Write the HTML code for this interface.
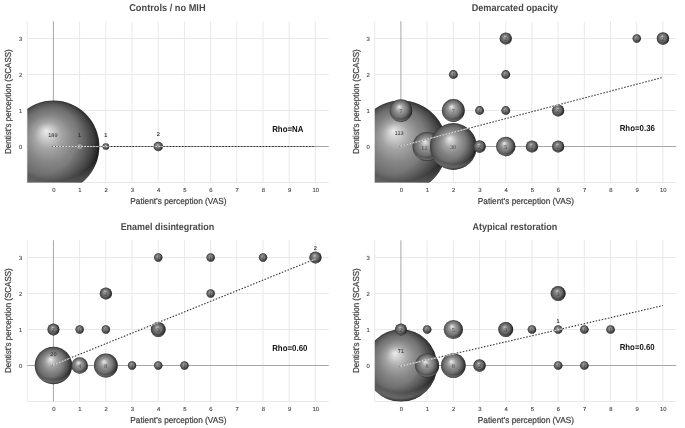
<!DOCTYPE html>
<html><head><meta charset="utf-8"><style>
html,body{margin:0;padding:0;background:#fff;}
svg{display:block;filter:grayscale(1);}
text{font-family:"Liberation Sans",sans-serif;text-rendering:geometricPrecision;}
</style></head><body>
<svg width="685" height="428" viewBox="0 0 685 428">
<defs>
<radialGradient id="sph" cx="0.5" cy="0.5" r="0.5" fx="0.42" fy="0.33">
<stop offset="0" stop-color="#ececec"/>
<stop offset="0.12" stop-color="#d0d0d0"/>
<stop offset="0.3" stop-color="#a4a4a4"/>
<stop offset="0.52" stop-color="#858585"/>
<stop offset="0.75" stop-color="#6e6e6e"/>
<stop offset="0.9" stop-color="#565656"/>
<stop offset="1" stop-color="#3a3a3a"/>
</radialGradient>
<radialGradient id="sphs" cx="0.5" cy="0.5" r="0.5" fx="0.42" fy="0.33">
<stop offset="0" stop-color="#c4c4c4"/>
<stop offset="0.12" stop-color="#a8a8a8"/>
<stop offset="0.35" stop-color="#7e7e7e"/>
<stop offset="0.6" stop-color="#6a6a6a"/>
<stop offset="0.82" stop-color="#505050"/>
<stop offset="1" stop-color="#2e2e2e"/>
</radialGradient>
<radialGradient id="rim" cx="0.5" cy="0.3" r="0.72" fx="0.5" fy="0.3">
<stop offset="0.8" stop-color="#fff" stop-opacity="0"/>
<stop offset="0.9" stop-color="#fff" stop-opacity="0.22"/>
<stop offset="0.97" stop-color="#fff" stop-opacity="0.05"/>
<stop offset="1" stop-color="#fff" stop-opacity="0"/>
</radialGradient>
<radialGradient id="shd" cx="0.36" cy="0.4" r="0.72" fx="0.36" fy="0.4">
<stop offset="0.55" stop-color="#000" stop-opacity="0"/>
<stop offset="0.8" stop-color="#000" stop-opacity="0.28"/>
<stop offset="1" stop-color="#000" stop-opacity="0.7"/>
</radialGradient>

<clipPath id="cp0"><rect x="27.30" y="21.22" width="301.50" height="161.28"/></clipPath>
<clipPath id="cp1"><rect x="374.80" y="21.22" width="301.50" height="161.28"/></clipPath>
<clipPath id="cp2"><rect x="27.30" y="240.22" width="301.50" height="161.28"/></clipPath>
<clipPath id="cp3"><rect x="374.80" y="240.22" width="301.50" height="161.28"/></clipPath>
<clipPath id="bc0"><circle cx="53.40" cy="146.50" r="45.9"/><circle cx="79.60" cy="146.50" r="2.6"/><circle cx="105.80" cy="146.50" r="3.3"/><circle cx="158.20" cy="146.50" r="4.7"/></clipPath>
<mask id="bm0" maskUnits="userSpaceOnUse" x="0" y="0" width="685" height="428"><rect x="0" y="0" width="685" height="428" fill="#fff"/><g fill="#000"><circle cx="53.40" cy="146.50" r="45.9"/><circle cx="79.60" cy="146.50" r="2.6"/><circle cx="105.80" cy="146.50" r="3.3"/><circle cx="158.20" cy="146.50" r="4.7"/></g></mask>
<clipPath id="bc1"><circle cx="400.90" cy="146.50" r="45.9"/><circle cx="400.90" cy="110.50" r="11.3"/><circle cx="427.10" cy="146.50" r="14.6"/><circle cx="453.30" cy="146.50" r="23.4"/><circle cx="453.30" cy="110.50" r="11.4"/><circle cx="453.30" cy="74.50" r="4.4"/><circle cx="479.50" cy="146.50" r="6.2"/><circle cx="479.50" cy="110.50" r="4.4"/><circle cx="505.70" cy="146.50" r="9.7"/><circle cx="505.70" cy="110.50" r="4.4"/><circle cx="505.70" cy="74.50" r="4.4"/><circle cx="505.70" cy="38.50" r="6.1"/><circle cx="531.90" cy="146.50" r="6.1"/><circle cx="558.10" cy="146.50" r="6.1"/><circle cx="558.10" cy="110.50" r="6.1"/><circle cx="636.70" cy="38.50" r="4.2"/><circle cx="662.90" cy="38.50" r="6.2"/></clipPath>
<mask id="bm1" maskUnits="userSpaceOnUse" x="0" y="0" width="685" height="428"><rect x="0" y="0" width="685" height="428" fill="#fff"/><g fill="#000"><circle cx="400.90" cy="146.50" r="45.9"/><circle cx="400.90" cy="110.50" r="11.3"/><circle cx="427.10" cy="146.50" r="14.6"/><circle cx="453.30" cy="146.50" r="23.4"/><circle cx="453.30" cy="110.50" r="11.4"/><circle cx="453.30" cy="74.50" r="4.4"/><circle cx="479.50" cy="146.50" r="6.2"/><circle cx="479.50" cy="110.50" r="4.4"/><circle cx="505.70" cy="146.50" r="9.7"/><circle cx="505.70" cy="110.50" r="4.4"/><circle cx="505.70" cy="74.50" r="4.4"/><circle cx="505.70" cy="38.50" r="6.1"/><circle cx="531.90" cy="146.50" r="6.1"/><circle cx="558.10" cy="146.50" r="6.1"/><circle cx="558.10" cy="110.50" r="6.1"/><circle cx="636.70" cy="38.50" r="4.2"/><circle cx="662.90" cy="38.50" r="6.2"/></g></mask>
<clipPath id="bc2"><circle cx="53.40" cy="365.50" r="18.7"/><circle cx="53.40" cy="329.50" r="6.0"/><circle cx="79.60" cy="365.50" r="8.3"/><circle cx="79.60" cy="329.50" r="4.2"/><circle cx="105.80" cy="365.50" r="11.9"/><circle cx="105.80" cy="329.50" r="4.2"/><circle cx="105.80" cy="293.50" r="6.1"/><circle cx="132.00" cy="365.50" r="4.2"/><circle cx="158.20" cy="365.50" r="4.2"/><circle cx="158.20" cy="329.50" r="7.4"/><circle cx="158.20" cy="257.50" r="4.2"/><circle cx="184.40" cy="365.50" r="4.2"/><circle cx="210.60" cy="293.50" r="4.2"/><circle cx="210.60" cy="257.50" r="4.2"/><circle cx="263.00" cy="257.50" r="4.2"/><circle cx="315.40" cy="257.50" r="6.1"/></clipPath>
<mask id="bm2" maskUnits="userSpaceOnUse" x="0" y="0" width="685" height="428"><rect x="0" y="0" width="685" height="428" fill="#fff"/><g fill="#000"><circle cx="53.40" cy="365.50" r="18.7"/><circle cx="53.40" cy="329.50" r="6.0"/><circle cx="79.60" cy="365.50" r="8.3"/><circle cx="79.60" cy="329.50" r="4.2"/><circle cx="105.80" cy="365.50" r="11.9"/><circle cx="105.80" cy="329.50" r="4.2"/><circle cx="105.80" cy="293.50" r="6.1"/><circle cx="132.00" cy="365.50" r="4.2"/><circle cx="158.20" cy="365.50" r="4.2"/><circle cx="158.20" cy="329.50" r="7.4"/><circle cx="158.20" cy="257.50" r="4.2"/><circle cx="184.40" cy="365.50" r="4.2"/><circle cx="210.60" cy="293.50" r="4.2"/><circle cx="210.60" cy="257.50" r="4.2"/><circle cx="263.00" cy="257.50" r="4.2"/><circle cx="315.40" cy="257.50" r="6.1"/></g></mask>
<clipPath id="bc3"><circle cx="400.90" cy="365.50" r="36.2"/><circle cx="400.90" cy="329.50" r="6.0"/><circle cx="427.10" cy="365.50" r="12.0"/><circle cx="427.10" cy="329.50" r="4.3"/><circle cx="453.30" cy="365.50" r="12.3"/><circle cx="453.30" cy="329.50" r="9.6"/><circle cx="479.50" cy="365.50" r="6.2"/><circle cx="505.70" cy="329.50" r="7.5"/><circle cx="531.90" cy="329.50" r="4.3"/><circle cx="558.10" cy="365.50" r="4.3"/><circle cx="558.10" cy="329.50" r="4.3"/><circle cx="558.10" cy="293.50" r="7.5"/><circle cx="584.30" cy="365.50" r="4.3"/><circle cx="584.30" cy="329.50" r="4.3"/><circle cx="610.50" cy="329.50" r="4.3"/></clipPath>
<mask id="bm3" maskUnits="userSpaceOnUse" x="0" y="0" width="685" height="428"><rect x="0" y="0" width="685" height="428" fill="#fff"/><g fill="#000"><circle cx="400.90" cy="365.50" r="36.2"/><circle cx="400.90" cy="329.50" r="6.0"/><circle cx="427.10" cy="365.50" r="12.0"/><circle cx="427.10" cy="329.50" r="4.3"/><circle cx="453.30" cy="365.50" r="12.3"/><circle cx="453.30" cy="329.50" r="9.6"/><circle cx="479.50" cy="365.50" r="6.2"/><circle cx="505.70" cy="329.50" r="7.5"/><circle cx="531.90" cy="329.50" r="4.3"/><circle cx="558.10" cy="365.50" r="4.3"/><circle cx="558.10" cy="329.50" r="4.3"/><circle cx="558.10" cy="293.50" r="7.5"/><circle cx="584.30" cy="365.50" r="4.3"/><circle cx="584.30" cy="329.50" r="4.3"/><circle cx="610.50" cy="329.50" r="4.3"/></g></mask>
</defs>
<g><text x="167.40" y="10.50" font-size="9.9" font-weight="bold" fill="#484848" text-anchor="middle" textLength="76.4" lengthAdjust="spacingAndGlyphs">Controls / no MIH</text>
<line x1="27.20" y1="38.50" x2="328.80" y2="38.50" stroke="#e9e9e9" stroke-width="1"/>
<line x1="27.20" y1="74.50" x2="328.80" y2="74.50" stroke="#e9e9e9" stroke-width="1"/>
<line x1="27.20" y1="110.50" x2="328.80" y2="110.50" stroke="#e9e9e9" stroke-width="1"/>
<line x1="27.20" y1="182.50" x2="328.80" y2="182.50" stroke="#e9e9e9" stroke-width="1"/>
<line x1="27.20" y1="21.22" x2="27.20" y2="182.50" stroke="#e9e9e9" stroke-width="1"/>
<line x1="79.60" y1="21.22" x2="79.60" y2="182.50" stroke="#e9e9e9" stroke-width="1"/>
<line x1="105.80" y1="21.22" x2="105.80" y2="182.50" stroke="#e9e9e9" stroke-width="1"/>
<line x1="132.00" y1="21.22" x2="132.00" y2="182.50" stroke="#e9e9e9" stroke-width="1"/>
<line x1="158.20" y1="21.22" x2="158.20" y2="182.50" stroke="#e9e9e9" stroke-width="1"/>
<line x1="184.40" y1="21.22" x2="184.40" y2="182.50" stroke="#e9e9e9" stroke-width="1"/>
<line x1="210.60" y1="21.22" x2="210.60" y2="182.50" stroke="#e9e9e9" stroke-width="1"/>
<line x1="236.80" y1="21.22" x2="236.80" y2="182.50" stroke="#e9e9e9" stroke-width="1"/>
<line x1="263.00" y1="21.22" x2="263.00" y2="182.50" stroke="#e9e9e9" stroke-width="1"/>
<line x1="289.20" y1="21.22" x2="289.20" y2="182.50" stroke="#e9e9e9" stroke-width="1"/>
<line x1="315.40" y1="21.22" x2="315.40" y2="182.50" stroke="#e9e9e9" stroke-width="1"/>
<line x1="53.40" y1="21.22" x2="53.40" y2="182.50" stroke="#a6a6a6" stroke-width="1"/>
<line x1="27.20" y1="146.50" x2="328.80" y2="146.50" stroke="#a6a6a6" stroke-width="1"/>
<text x="53.80" y="192.30" font-size="5.9" fill="#444" stroke="#444" stroke-width="0.12" text-anchor="middle">0</text>
<text x="80.00" y="192.30" font-size="5.9" fill="#444" stroke="#444" stroke-width="0.12" text-anchor="middle">1</text>
<text x="106.20" y="192.30" font-size="5.9" fill="#444" stroke="#444" stroke-width="0.12" text-anchor="middle">2</text>
<text x="132.40" y="192.30" font-size="5.9" fill="#444" stroke="#444" stroke-width="0.12" text-anchor="middle">3</text>
<text x="158.60" y="192.30" font-size="5.9" fill="#444" stroke="#444" stroke-width="0.12" text-anchor="middle">4</text>
<text x="184.80" y="192.30" font-size="5.9" fill="#444" stroke="#444" stroke-width="0.12" text-anchor="middle">5</text>
<text x="211.00" y="192.30" font-size="5.9" fill="#444" stroke="#444" stroke-width="0.12" text-anchor="middle">6</text>
<text x="237.20" y="192.30" font-size="5.9" fill="#444" stroke="#444" stroke-width="0.12" text-anchor="middle">7</text>
<text x="263.40" y="192.30" font-size="5.9" fill="#444" stroke="#444" stroke-width="0.12" text-anchor="middle">8</text>
<text x="289.60" y="192.30" font-size="5.9" fill="#444" stroke="#444" stroke-width="0.12" text-anchor="middle">9</text>
<text x="315.80" y="192.30" font-size="5.9" fill="#444" stroke="#444" stroke-width="0.12" text-anchor="middle">10</text>
<text x="20.70" y="148.60" font-size="5.9" fill="#444" stroke="#444" stroke-width="0.12" text-anchor="middle">0</text>
<text x="20.70" y="112.60" font-size="5.9" fill="#444" stroke="#444" stroke-width="0.12" text-anchor="middle">1</text>
<text x="20.70" y="76.60" font-size="5.9" fill="#444" stroke="#444" stroke-width="0.12" text-anchor="middle">2</text>
<text x="20.70" y="40.60" font-size="5.9" fill="#444" stroke="#444" stroke-width="0.12" text-anchor="middle">3</text>
<text x="178.40" y="204.00" font-size="8.7" fill="#404040" stroke="#404040" stroke-width="0.22" text-anchor="middle" textLength="96.2" lengthAdjust="spacingAndGlyphs">Patient&#8217;s perception (VAS)</text>
<text transform="translate(11.00,101.60) rotate(-90)" font-size="8.7" fill="#404040" stroke="#404040" stroke-width="0.22" text-anchor="middle" textLength="104.6" lengthAdjust="spacingAndGlyphs">Dentist&#8217;s perception (SCASS)</text>
<g clip-path="url(#cp0)">
<circle cx="53.40" cy="146.50" r="45.9" fill="url(#sph)"/>
<circle cx="53.40" cy="146.50" r="45.9" fill="url(#shd)"/>
<circle cx="53.40" cy="146.50" r="45.9" fill="url(#rim)"/>
<circle cx="79.60" cy="146.50" r="2.6" fill="#b0b0b0" fill-opacity="0.6"/>
<circle cx="105.80" cy="146.50" r="3.3" fill="url(#sphs)"/>
<circle cx="105.80" cy="146.50" r="3.3" fill="url(#shd)"/>
<circle cx="105.80" cy="146.50" r="3.3" fill="url(#rim)"/>
<circle cx="158.20" cy="146.50" r="4.7" fill="url(#sphs)"/>
<circle cx="158.20" cy="146.50" r="4.7" fill="url(#shd)"/>
<circle cx="158.20" cy="146.50" r="4.7" fill="url(#rim)"/>
<line x1="51.90" y1="146.50" x2="315.40" y2="146.50" stroke="#333" stroke-width="1.1" stroke-dasharray="1.5 1.6" mask="url(#bm0)"/>
<g clip-path="url(#bc0)"><line x1="51.90" y1="146.50" x2="315.40" y2="146.50" stroke="#d8d8d8" stroke-width="1.2"/><line x1="51.90" y1="146.50" x2="315.40" y2="146.50" stroke="#555" stroke-width="1.0" stroke-dasharray="1.0 2.1"/></g>
</g>
<text x="52.90" y="137.40" font-size="5.5" fill="#2a2a2a" stroke="#2a2a2a" stroke-width="0.02" text-anchor="middle">189</text>
<text x="79.60" y="137.40" font-size="5.5" fill="#2a2a2a" stroke="#2a2a2a" stroke-width="0.15" text-anchor="middle">1</text>
<text x="105.80" y="137.40" font-size="5.5" fill="#2a2a2a" stroke="#2a2a2a" stroke-width="0.15" text-anchor="middle">1</text>
<text x="158.20" y="135.90" font-size="5.5" fill="#2a2a2a" stroke="#2a2a2a" stroke-width="0.15" text-anchor="middle">2</text>
<text x="272.20" y="131.60" font-size="8.7" font-weight="bold" fill="#111" textLength="31.2" lengthAdjust="spacingAndGlyphs">Rho=NA</text></g>
<g><text x="514.90" y="10.50" font-size="9.9" font-weight="bold" fill="#484848" text-anchor="middle" textLength="86.4" lengthAdjust="spacingAndGlyphs">Demarcated opacity</text>
<line x1="374.70" y1="38.50" x2="676.30" y2="38.50" stroke="#e9e9e9" stroke-width="1"/>
<line x1="374.70" y1="74.50" x2="676.30" y2="74.50" stroke="#e9e9e9" stroke-width="1"/>
<line x1="374.70" y1="110.50" x2="676.30" y2="110.50" stroke="#e9e9e9" stroke-width="1"/>
<line x1="374.70" y1="182.50" x2="676.30" y2="182.50" stroke="#e9e9e9" stroke-width="1"/>
<line x1="374.70" y1="21.22" x2="374.70" y2="182.50" stroke="#e9e9e9" stroke-width="1"/>
<line x1="427.10" y1="21.22" x2="427.10" y2="182.50" stroke="#e9e9e9" stroke-width="1"/>
<line x1="453.30" y1="21.22" x2="453.30" y2="182.50" stroke="#e9e9e9" stroke-width="1"/>
<line x1="479.50" y1="21.22" x2="479.50" y2="182.50" stroke="#e9e9e9" stroke-width="1"/>
<line x1="505.70" y1="21.22" x2="505.70" y2="182.50" stroke="#e9e9e9" stroke-width="1"/>
<line x1="531.90" y1="21.22" x2="531.90" y2="182.50" stroke="#e9e9e9" stroke-width="1"/>
<line x1="558.10" y1="21.22" x2="558.10" y2="182.50" stroke="#e9e9e9" stroke-width="1"/>
<line x1="584.30" y1="21.22" x2="584.30" y2="182.50" stroke="#e9e9e9" stroke-width="1"/>
<line x1="610.50" y1="21.22" x2="610.50" y2="182.50" stroke="#e9e9e9" stroke-width="1"/>
<line x1="636.70" y1="21.22" x2="636.70" y2="182.50" stroke="#e9e9e9" stroke-width="1"/>
<line x1="662.90" y1="21.22" x2="662.90" y2="182.50" stroke="#e9e9e9" stroke-width="1"/>
<line x1="400.90" y1="21.22" x2="400.90" y2="182.50" stroke="#a6a6a6" stroke-width="1"/>
<line x1="374.70" y1="146.50" x2="676.30" y2="146.50" stroke="#a6a6a6" stroke-width="1"/>
<text x="401.30" y="192.30" font-size="5.9" fill="#444" stroke="#444" stroke-width="0.12" text-anchor="middle">0</text>
<text x="427.50" y="192.30" font-size="5.9" fill="#444" stroke="#444" stroke-width="0.12" text-anchor="middle">1</text>
<text x="453.70" y="192.30" font-size="5.9" fill="#444" stroke="#444" stroke-width="0.12" text-anchor="middle">2</text>
<text x="479.90" y="192.30" font-size="5.9" fill="#444" stroke="#444" stroke-width="0.12" text-anchor="middle">3</text>
<text x="506.10" y="192.30" font-size="5.9" fill="#444" stroke="#444" stroke-width="0.12" text-anchor="middle">4</text>
<text x="532.30" y="192.30" font-size="5.9" fill="#444" stroke="#444" stroke-width="0.12" text-anchor="middle">5</text>
<text x="558.50" y="192.30" font-size="5.9" fill="#444" stroke="#444" stroke-width="0.12" text-anchor="middle">6</text>
<text x="584.70" y="192.30" font-size="5.9" fill="#444" stroke="#444" stroke-width="0.12" text-anchor="middle">7</text>
<text x="610.90" y="192.30" font-size="5.9" fill="#444" stroke="#444" stroke-width="0.12" text-anchor="middle">8</text>
<text x="637.10" y="192.30" font-size="5.9" fill="#444" stroke="#444" stroke-width="0.12" text-anchor="middle">9</text>
<text x="663.30" y="192.30" font-size="5.9" fill="#444" stroke="#444" stroke-width="0.12" text-anchor="middle">10</text>
<text x="368.20" y="148.60" font-size="5.9" fill="#444" stroke="#444" stroke-width="0.12" text-anchor="middle">0</text>
<text x="368.20" y="112.60" font-size="5.9" fill="#444" stroke="#444" stroke-width="0.12" text-anchor="middle">1</text>
<text x="368.20" y="76.60" font-size="5.9" fill="#444" stroke="#444" stroke-width="0.12" text-anchor="middle">2</text>
<text x="368.20" y="40.60" font-size="5.9" fill="#444" stroke="#444" stroke-width="0.12" text-anchor="middle">3</text>
<text x="525.90" y="204.00" font-size="8.7" fill="#404040" stroke="#404040" stroke-width="0.22" text-anchor="middle" textLength="96.2" lengthAdjust="spacingAndGlyphs">Patient&#8217;s perception (VAS)</text>
<text transform="translate(358.50,101.60) rotate(-90)" font-size="8.7" fill="#404040" stroke="#404040" stroke-width="0.22" text-anchor="middle" textLength="104.6" lengthAdjust="spacingAndGlyphs">Dentist&#8217;s perception (SCASS)</text>
<g clip-path="url(#cp1)">
<circle cx="400.90" cy="146.50" r="45.9" fill="url(#sph)"/>
<circle cx="400.90" cy="146.50" r="45.9" fill="url(#shd)"/>
<circle cx="400.90" cy="146.50" r="45.9" fill="url(#rim)"/>
<circle cx="400.90" cy="110.50" r="11.3" fill="url(#sph)"/>
<circle cx="400.90" cy="110.50" r="11.3" fill="url(#shd)"/>
<circle cx="400.90" cy="110.50" r="11.3" fill="url(#rim)"/>
<circle cx="427.10" cy="146.50" r="14.6" fill="url(#sph)"/>
<circle cx="427.10" cy="146.50" r="14.6" fill="url(#shd)"/>
<circle cx="427.10" cy="146.50" r="14.6" fill="url(#rim)"/>
<circle cx="453.30" cy="146.50" r="23.4" fill="url(#sph)"/>
<circle cx="453.30" cy="146.50" r="23.4" fill="url(#shd)"/>
<circle cx="453.30" cy="146.50" r="23.4" fill="url(#rim)"/>
<circle cx="453.30" cy="110.50" r="11.4" fill="url(#sph)"/>
<circle cx="453.30" cy="110.50" r="11.4" fill="url(#shd)"/>
<circle cx="453.30" cy="110.50" r="11.4" fill="url(#rim)"/>
<circle cx="453.30" cy="74.50" r="4.4" fill="url(#sphs)"/>
<circle cx="453.30" cy="74.50" r="4.4" fill="url(#shd)"/>
<circle cx="453.30" cy="74.50" r="4.4" fill="url(#rim)"/>
<circle cx="479.50" cy="146.50" r="6.2" fill="url(#sphs)"/>
<circle cx="479.50" cy="146.50" r="6.2" fill="url(#shd)"/>
<circle cx="479.50" cy="146.50" r="6.2" fill="url(#rim)"/>
<circle cx="479.50" cy="110.50" r="4.4" fill="url(#sphs)"/>
<circle cx="479.50" cy="110.50" r="4.4" fill="url(#shd)"/>
<circle cx="479.50" cy="110.50" r="4.4" fill="url(#rim)"/>
<circle cx="505.70" cy="146.50" r="9.7" fill="url(#sph)"/>
<circle cx="505.70" cy="146.50" r="9.7" fill="url(#shd)"/>
<circle cx="505.70" cy="146.50" r="9.7" fill="url(#rim)"/>
<circle cx="505.70" cy="110.50" r="4.4" fill="url(#sphs)"/>
<circle cx="505.70" cy="110.50" r="4.4" fill="url(#shd)"/>
<circle cx="505.70" cy="110.50" r="4.4" fill="url(#rim)"/>
<circle cx="505.70" cy="74.50" r="4.4" fill="url(#sphs)"/>
<circle cx="505.70" cy="74.50" r="4.4" fill="url(#shd)"/>
<circle cx="505.70" cy="74.50" r="4.4" fill="url(#rim)"/>
<circle cx="505.70" cy="38.50" r="6.1" fill="url(#sphs)"/>
<circle cx="505.70" cy="38.50" r="6.1" fill="url(#shd)"/>
<circle cx="505.70" cy="38.50" r="6.1" fill="url(#rim)"/>
<circle cx="531.90" cy="146.50" r="6.1" fill="url(#sphs)"/>
<circle cx="531.90" cy="146.50" r="6.1" fill="url(#shd)"/>
<circle cx="531.90" cy="146.50" r="6.1" fill="url(#rim)"/>
<circle cx="558.10" cy="146.50" r="6.1" fill="url(#sphs)"/>
<circle cx="558.10" cy="146.50" r="6.1" fill="url(#shd)"/>
<circle cx="558.10" cy="146.50" r="6.1" fill="url(#rim)"/>
<circle cx="558.10" cy="110.50" r="6.1" fill="url(#sphs)"/>
<circle cx="558.10" cy="110.50" r="6.1" fill="url(#shd)"/>
<circle cx="558.10" cy="110.50" r="6.1" fill="url(#rim)"/>
<circle cx="636.70" cy="38.50" r="4.2" fill="url(#sphs)"/>
<circle cx="636.70" cy="38.50" r="4.2" fill="url(#shd)"/>
<circle cx="636.70" cy="38.50" r="4.2" fill="url(#rim)"/>
<circle cx="662.90" cy="38.50" r="6.2" fill="url(#sphs)"/>
<circle cx="662.90" cy="38.50" r="6.2" fill="url(#shd)"/>
<circle cx="662.90" cy="38.50" r="6.2" fill="url(#rim)"/>
<line x1="399.40" y1="146.50" x2="662.90" y2="77.38" stroke="#333" stroke-width="1.1" stroke-dasharray="1.5 1.6" mask="url(#bm1)"/>
<g clip-path="url(#bc1)"><line x1="399.40" y1="146.50" x2="662.90" y2="77.38" stroke="#d8d8d8" stroke-width="1.2"/><line x1="399.40" y1="146.50" x2="662.90" y2="77.38" stroke="#555" stroke-width="1.0" stroke-dasharray="1.0 2.1"/></g>
</g>
<text x="399.20" y="135.00" font-size="5.5" fill="#2a2a2a" stroke="#2a2a2a" stroke-width="0.02" text-anchor="middle">113</text>
<text x="400.90" y="112.70" font-size="6.2" fill="#333" fill-opacity="0.8" text-anchor="middle" style="font-family:&quot;Liberation Serif&quot;,serif">7</text>
<text x="424.40" y="149.70" font-size="6.2" fill="#333" fill-opacity="0.8" text-anchor="middle" style="font-family:&quot;Liberation Serif&quot;,serif">12</text>
<text x="453.30" y="148.70" font-size="6.2" fill="#333" fill-opacity="0.8" text-anchor="middle" style="font-family:&quot;Liberation Serif&quot;,serif">30</text>
<text x="453.30" y="112.70" font-size="6.2" fill="#333" fill-opacity="0.8" text-anchor="middle" style="font-family:&quot;Liberation Serif&quot;,serif">7</text>
<text x="453.30" y="76.70" font-size="6.2" fill="#333" fill-opacity="0.8" text-anchor="middle" style="font-family:&quot;Liberation Serif&quot;,serif">1</text>
<text x="479.50" y="148.70" font-size="6.2" fill="#333" fill-opacity="0.8" text-anchor="middle" style="font-family:&quot;Liberation Serif&quot;,serif">2</text>
<text x="479.50" y="112.70" font-size="6.2" fill="#333" fill-opacity="0.8" text-anchor="middle" style="font-family:&quot;Liberation Serif&quot;,serif">1</text>
<text x="505.70" y="148.70" font-size="6.2" fill="#333" fill-opacity="0.8" text-anchor="middle" style="font-family:&quot;Liberation Serif&quot;,serif">5</text>
<text x="505.70" y="112.70" font-size="6.2" fill="#333" fill-opacity="0.8" text-anchor="middle" style="font-family:&quot;Liberation Serif&quot;,serif">1</text>
<text x="505.70" y="76.70" font-size="6.2" fill="#333" fill-opacity="0.8" text-anchor="middle" style="font-family:&quot;Liberation Serif&quot;,serif">1</text>
<text x="505.70" y="40.70" font-size="6.2" fill="#333" fill-opacity="0.8" text-anchor="middle" style="font-family:&quot;Liberation Serif&quot;,serif">2</text>
<text x="531.90" y="148.70" font-size="6.2" fill="#333" fill-opacity="0.8" text-anchor="middle" style="font-family:&quot;Liberation Serif&quot;,serif">2</text>
<text x="558.10" y="148.70" font-size="6.2" fill="#333" fill-opacity="0.8" text-anchor="middle" style="font-family:&quot;Liberation Serif&quot;,serif">2</text>
<text x="558.10" y="112.70" font-size="6.2" fill="#333" fill-opacity="0.8" text-anchor="middle" style="font-family:&quot;Liberation Serif&quot;,serif">2</text>
<text x="636.70" y="40.70" font-size="6.2" fill="#333" fill-opacity="0.8" text-anchor="middle" style="font-family:&quot;Liberation Serif&quot;,serif">1</text>
<text x="662.90" y="40.70" font-size="6.2" fill="#333" fill-opacity="0.8" text-anchor="middle" style="font-family:&quot;Liberation Serif&quot;,serif">2</text>
<text x="619.70" y="130.70" font-size="8.7" font-weight="bold" fill="#111" textLength="35.2" lengthAdjust="spacingAndGlyphs">Rho=0.36</text></g>
<g><text x="167.40" y="229.50" font-size="9.9" font-weight="bold" fill="#484848" text-anchor="middle" textLength="93.5" lengthAdjust="spacingAndGlyphs">Enamel disintegration</text>
<line x1="27.20" y1="257.50" x2="328.80" y2="257.50" stroke="#e9e9e9" stroke-width="1"/>
<line x1="27.20" y1="293.50" x2="328.80" y2="293.50" stroke="#e9e9e9" stroke-width="1"/>
<line x1="27.20" y1="329.50" x2="328.80" y2="329.50" stroke="#e9e9e9" stroke-width="1"/>
<line x1="27.20" y1="401.50" x2="328.80" y2="401.50" stroke="#e9e9e9" stroke-width="1"/>
<line x1="27.20" y1="240.22" x2="27.20" y2="401.50" stroke="#e9e9e9" stroke-width="1"/>
<line x1="79.60" y1="240.22" x2="79.60" y2="401.50" stroke="#e9e9e9" stroke-width="1"/>
<line x1="105.80" y1="240.22" x2="105.80" y2="401.50" stroke="#e9e9e9" stroke-width="1"/>
<line x1="132.00" y1="240.22" x2="132.00" y2="401.50" stroke="#e9e9e9" stroke-width="1"/>
<line x1="158.20" y1="240.22" x2="158.20" y2="401.50" stroke="#e9e9e9" stroke-width="1"/>
<line x1="184.40" y1="240.22" x2="184.40" y2="401.50" stroke="#e9e9e9" stroke-width="1"/>
<line x1="210.60" y1="240.22" x2="210.60" y2="401.50" stroke="#e9e9e9" stroke-width="1"/>
<line x1="236.80" y1="240.22" x2="236.80" y2="401.50" stroke="#e9e9e9" stroke-width="1"/>
<line x1="263.00" y1="240.22" x2="263.00" y2="401.50" stroke="#e9e9e9" stroke-width="1"/>
<line x1="289.20" y1="240.22" x2="289.20" y2="401.50" stroke="#e9e9e9" stroke-width="1"/>
<line x1="315.40" y1="240.22" x2="315.40" y2="401.50" stroke="#e9e9e9" stroke-width="1"/>
<line x1="53.40" y1="240.22" x2="53.40" y2="401.50" stroke="#a6a6a6" stroke-width="1"/>
<line x1="27.20" y1="365.50" x2="328.80" y2="365.50" stroke="#a6a6a6" stroke-width="1"/>
<text x="53.80" y="411.30" font-size="5.9" fill="#444" stroke="#444" stroke-width="0.12" text-anchor="middle">0</text>
<text x="80.00" y="411.30" font-size="5.9" fill="#444" stroke="#444" stroke-width="0.12" text-anchor="middle">1</text>
<text x="106.20" y="411.30" font-size="5.9" fill="#444" stroke="#444" stroke-width="0.12" text-anchor="middle">2</text>
<text x="132.40" y="411.30" font-size="5.9" fill="#444" stroke="#444" stroke-width="0.12" text-anchor="middle">3</text>
<text x="158.60" y="411.30" font-size="5.9" fill="#444" stroke="#444" stroke-width="0.12" text-anchor="middle">4</text>
<text x="184.80" y="411.30" font-size="5.9" fill="#444" stroke="#444" stroke-width="0.12" text-anchor="middle">5</text>
<text x="211.00" y="411.30" font-size="5.9" fill="#444" stroke="#444" stroke-width="0.12" text-anchor="middle">6</text>
<text x="237.20" y="411.30" font-size="5.9" fill="#444" stroke="#444" stroke-width="0.12" text-anchor="middle">7</text>
<text x="263.40" y="411.30" font-size="5.9" fill="#444" stroke="#444" stroke-width="0.12" text-anchor="middle">8</text>
<text x="289.60" y="411.30" font-size="5.9" fill="#444" stroke="#444" stroke-width="0.12" text-anchor="middle">9</text>
<text x="315.80" y="411.30" font-size="5.9" fill="#444" stroke="#444" stroke-width="0.12" text-anchor="middle">10</text>
<text x="20.70" y="367.60" font-size="5.9" fill="#444" stroke="#444" stroke-width="0.12" text-anchor="middle">0</text>
<text x="20.70" y="331.60" font-size="5.9" fill="#444" stroke="#444" stroke-width="0.12" text-anchor="middle">1</text>
<text x="20.70" y="295.60" font-size="5.9" fill="#444" stroke="#444" stroke-width="0.12" text-anchor="middle">2</text>
<text x="20.70" y="259.60" font-size="5.9" fill="#444" stroke="#444" stroke-width="0.12" text-anchor="middle">3</text>
<text x="178.40" y="423.00" font-size="8.7" fill="#404040" stroke="#404040" stroke-width="0.22" text-anchor="middle" textLength="96.2" lengthAdjust="spacingAndGlyphs">Patient&#8217;s perception (VAS)</text>
<text transform="translate(11.00,320.60) rotate(-90)" font-size="8.7" fill="#404040" stroke="#404040" stroke-width="0.22" text-anchor="middle" textLength="104.6" lengthAdjust="spacingAndGlyphs">Dentist&#8217;s perception (SCASS)</text>
<g clip-path="url(#cp2)">
<circle cx="53.40" cy="365.50" r="18.7" fill="url(#sph)"/>
<circle cx="53.40" cy="365.50" r="18.7" fill="url(#shd)"/>
<circle cx="53.40" cy="365.50" r="18.7" fill="url(#rim)"/>
<circle cx="53.40" cy="329.50" r="6.0" fill="url(#sphs)"/>
<circle cx="53.40" cy="329.50" r="6.0" fill="url(#shd)"/>
<circle cx="53.40" cy="329.50" r="6.0" fill="url(#rim)"/>
<circle cx="79.60" cy="365.50" r="8.3" fill="url(#sph)"/>
<circle cx="79.60" cy="365.50" r="8.3" fill="url(#shd)"/>
<circle cx="79.60" cy="365.50" r="8.3" fill="url(#rim)"/>
<circle cx="79.60" cy="329.50" r="4.2" fill="url(#sphs)"/>
<circle cx="79.60" cy="329.50" r="4.2" fill="url(#shd)"/>
<circle cx="79.60" cy="329.50" r="4.2" fill="url(#rim)"/>
<circle cx="105.80" cy="365.50" r="11.9" fill="url(#sph)"/>
<circle cx="105.80" cy="365.50" r="11.9" fill="url(#shd)"/>
<circle cx="105.80" cy="365.50" r="11.9" fill="url(#rim)"/>
<circle cx="105.80" cy="329.50" r="4.2" fill="url(#sphs)"/>
<circle cx="105.80" cy="329.50" r="4.2" fill="url(#shd)"/>
<circle cx="105.80" cy="329.50" r="4.2" fill="url(#rim)"/>
<circle cx="105.80" cy="293.50" r="6.1" fill="url(#sphs)"/>
<circle cx="105.80" cy="293.50" r="6.1" fill="url(#shd)"/>
<circle cx="105.80" cy="293.50" r="6.1" fill="url(#rim)"/>
<circle cx="132.00" cy="365.50" r="4.2" fill="url(#sphs)"/>
<circle cx="132.00" cy="365.50" r="4.2" fill="url(#shd)"/>
<circle cx="132.00" cy="365.50" r="4.2" fill="url(#rim)"/>
<circle cx="158.20" cy="365.50" r="4.2" fill="url(#sphs)"/>
<circle cx="158.20" cy="365.50" r="4.2" fill="url(#shd)"/>
<circle cx="158.20" cy="365.50" r="4.2" fill="url(#rim)"/>
<circle cx="158.20" cy="329.50" r="7.4" fill="url(#sphs)"/>
<circle cx="158.20" cy="329.50" r="7.4" fill="url(#shd)"/>
<circle cx="158.20" cy="329.50" r="7.4" fill="url(#rim)"/>
<circle cx="158.20" cy="257.50" r="4.2" fill="url(#sphs)"/>
<circle cx="158.20" cy="257.50" r="4.2" fill="url(#shd)"/>
<circle cx="158.20" cy="257.50" r="4.2" fill="url(#rim)"/>
<circle cx="184.40" cy="365.50" r="4.2" fill="url(#sphs)"/>
<circle cx="184.40" cy="365.50" r="4.2" fill="url(#shd)"/>
<circle cx="184.40" cy="365.50" r="4.2" fill="url(#rim)"/>
<circle cx="210.60" cy="293.50" r="4.2" fill="url(#sphs)"/>
<circle cx="210.60" cy="293.50" r="4.2" fill="url(#shd)"/>
<circle cx="210.60" cy="293.50" r="4.2" fill="url(#rim)"/>
<circle cx="210.60" cy="257.50" r="4.2" fill="url(#sphs)"/>
<circle cx="210.60" cy="257.50" r="4.2" fill="url(#shd)"/>
<circle cx="210.60" cy="257.50" r="4.2" fill="url(#rim)"/>
<circle cx="263.00" cy="257.50" r="4.2" fill="url(#sphs)"/>
<circle cx="263.00" cy="257.50" r="4.2" fill="url(#shd)"/>
<circle cx="263.00" cy="257.50" r="4.2" fill="url(#rim)"/>
<circle cx="315.40" cy="257.50" r="6.1" fill="url(#sphs)"/>
<circle cx="315.40" cy="257.50" r="6.1" fill="url(#shd)"/>
<circle cx="315.40" cy="257.50" r="6.1" fill="url(#rim)"/>
<line x1="51.90" y1="365.50" x2="315.40" y2="258.94" stroke="#333" stroke-width="1.1" stroke-dasharray="1.5 1.6" mask="url(#bm2)"/>
<g clip-path="url(#bc2)"><line x1="51.90" y1="365.50" x2="315.40" y2="258.94" stroke="#d8d8d8" stroke-width="1.2"/><line x1="51.90" y1="365.50" x2="315.40" y2="258.94" stroke="#555" stroke-width="1.0" stroke-dasharray="1.0 2.1"/></g>
</g>
<text x="53.40" y="355.90" font-size="5.5" fill="#2a2a2a" stroke="#2a2a2a" stroke-width="0.02" text-anchor="middle">20</text>
<text x="53.40" y="331.70" font-size="6.2" fill="#333" fill-opacity="0.8" text-anchor="middle" style="font-family:&quot;Liberation Serif&quot;,serif">2</text>
<text x="79.60" y="367.70" font-size="6.2" fill="#333" fill-opacity="0.8" text-anchor="middle" style="font-family:&quot;Liberation Serif&quot;,serif">4</text>
<text x="79.60" y="331.70" font-size="6.2" fill="#333" fill-opacity="0.8" text-anchor="middle" style="font-family:&quot;Liberation Serif&quot;,serif">1</text>
<text x="105.80" y="367.70" font-size="6.2" fill="#333" fill-opacity="0.8" text-anchor="middle" style="font-family:&quot;Liberation Serif&quot;,serif">8</text>
<text x="105.80" y="331.70" font-size="6.2" fill="#333" fill-opacity="0.8" text-anchor="middle" style="font-family:&quot;Liberation Serif&quot;,serif">1</text>
<text x="105.80" y="295.70" font-size="6.2" fill="#333" fill-opacity="0.8" text-anchor="middle" style="font-family:&quot;Liberation Serif&quot;,serif">2</text>
<text x="132.00" y="367.70" font-size="6.2" fill="#333" fill-opacity="0.8" text-anchor="middle" style="font-family:&quot;Liberation Serif&quot;,serif">1</text>
<text x="158.20" y="367.70" font-size="6.2" fill="#333" fill-opacity="0.8" text-anchor="middle" style="font-family:&quot;Liberation Serif&quot;,serif">1</text>
<text x="158.20" y="331.70" font-size="6.2" fill="#333" fill-opacity="0.8" text-anchor="middle" style="font-family:&quot;Liberation Serif&quot;,serif">3</text>
<text x="158.20" y="259.70" font-size="6.2" fill="#333" fill-opacity="0.8" text-anchor="middle" style="font-family:&quot;Liberation Serif&quot;,serif">1</text>
<text x="184.40" y="367.70" font-size="6.2" fill="#333" fill-opacity="0.8" text-anchor="middle" style="font-family:&quot;Liberation Serif&quot;,serif">1</text>
<text x="210.60" y="295.70" font-size="6.2" fill="#333" fill-opacity="0.8" text-anchor="middle" style="font-family:&quot;Liberation Serif&quot;,serif">1</text>
<text x="210.60" y="259.70" font-size="6.2" fill="#333" fill-opacity="0.8" text-anchor="middle" style="font-family:&quot;Liberation Serif&quot;,serif">1</text>
<text x="263.00" y="259.70" font-size="6.2" fill="#333" fill-opacity="0.8" text-anchor="middle" style="font-family:&quot;Liberation Serif&quot;,serif">1</text>
<text x="315.40" y="250.40" font-size="5.5" fill="#2a2a2a" stroke="#2a2a2a" stroke-width="0.15" text-anchor="middle">2</text>
<text x="272.20" y="350.60" font-size="8.7" font-weight="bold" fill="#111" textLength="35.2" lengthAdjust="spacingAndGlyphs">Rho=0.60</text></g>
<g><text x="514.90" y="229.50" font-size="9.9" font-weight="bold" fill="#484848" text-anchor="middle" textLength="84.7" lengthAdjust="spacingAndGlyphs">Atypical restoration</text>
<line x1="374.70" y1="257.50" x2="676.30" y2="257.50" stroke="#e9e9e9" stroke-width="1"/>
<line x1="374.70" y1="293.50" x2="676.30" y2="293.50" stroke="#e9e9e9" stroke-width="1"/>
<line x1="374.70" y1="329.50" x2="676.30" y2="329.50" stroke="#e9e9e9" stroke-width="1"/>
<line x1="374.70" y1="401.50" x2="676.30" y2="401.50" stroke="#e9e9e9" stroke-width="1"/>
<line x1="374.70" y1="240.22" x2="374.70" y2="401.50" stroke="#e9e9e9" stroke-width="1"/>
<line x1="427.10" y1="240.22" x2="427.10" y2="401.50" stroke="#e9e9e9" stroke-width="1"/>
<line x1="453.30" y1="240.22" x2="453.30" y2="401.50" stroke="#e9e9e9" stroke-width="1"/>
<line x1="479.50" y1="240.22" x2="479.50" y2="401.50" stroke="#e9e9e9" stroke-width="1"/>
<line x1="505.70" y1="240.22" x2="505.70" y2="401.50" stroke="#e9e9e9" stroke-width="1"/>
<line x1="531.90" y1="240.22" x2="531.90" y2="401.50" stroke="#e9e9e9" stroke-width="1"/>
<line x1="558.10" y1="240.22" x2="558.10" y2="401.50" stroke="#e9e9e9" stroke-width="1"/>
<line x1="584.30" y1="240.22" x2="584.30" y2="401.50" stroke="#e9e9e9" stroke-width="1"/>
<line x1="610.50" y1="240.22" x2="610.50" y2="401.50" stroke="#e9e9e9" stroke-width="1"/>
<line x1="636.70" y1="240.22" x2="636.70" y2="401.50" stroke="#e9e9e9" stroke-width="1"/>
<line x1="662.90" y1="240.22" x2="662.90" y2="401.50" stroke="#e9e9e9" stroke-width="1"/>
<line x1="400.90" y1="240.22" x2="400.90" y2="401.50" stroke="#a6a6a6" stroke-width="1"/>
<line x1="374.70" y1="365.50" x2="676.30" y2="365.50" stroke="#a6a6a6" stroke-width="1"/>
<text x="401.30" y="411.30" font-size="5.9" fill="#444" stroke="#444" stroke-width="0.12" text-anchor="middle">0</text>
<text x="427.50" y="411.30" font-size="5.9" fill="#444" stroke="#444" stroke-width="0.12" text-anchor="middle">1</text>
<text x="453.70" y="411.30" font-size="5.9" fill="#444" stroke="#444" stroke-width="0.12" text-anchor="middle">2</text>
<text x="479.90" y="411.30" font-size="5.9" fill="#444" stroke="#444" stroke-width="0.12" text-anchor="middle">3</text>
<text x="506.10" y="411.30" font-size="5.9" fill="#444" stroke="#444" stroke-width="0.12" text-anchor="middle">4</text>
<text x="532.30" y="411.30" font-size="5.9" fill="#444" stroke="#444" stroke-width="0.12" text-anchor="middle">5</text>
<text x="558.50" y="411.30" font-size="5.9" fill="#444" stroke="#444" stroke-width="0.12" text-anchor="middle">6</text>
<text x="584.70" y="411.30" font-size="5.9" fill="#444" stroke="#444" stroke-width="0.12" text-anchor="middle">7</text>
<text x="610.90" y="411.30" font-size="5.9" fill="#444" stroke="#444" stroke-width="0.12" text-anchor="middle">8</text>
<text x="637.10" y="411.30" font-size="5.9" fill="#444" stroke="#444" stroke-width="0.12" text-anchor="middle">9</text>
<text x="663.30" y="411.30" font-size="5.9" fill="#444" stroke="#444" stroke-width="0.12" text-anchor="middle">10</text>
<text x="368.20" y="367.60" font-size="5.9" fill="#444" stroke="#444" stroke-width="0.12" text-anchor="middle">0</text>
<text x="368.20" y="331.60" font-size="5.9" fill="#444" stroke="#444" stroke-width="0.12" text-anchor="middle">1</text>
<text x="368.20" y="295.60" font-size="5.9" fill="#444" stroke="#444" stroke-width="0.12" text-anchor="middle">2</text>
<text x="368.20" y="259.60" font-size="5.9" fill="#444" stroke="#444" stroke-width="0.12" text-anchor="middle">3</text>
<text x="525.90" y="423.00" font-size="8.7" fill="#404040" stroke="#404040" stroke-width="0.22" text-anchor="middle" textLength="96.2" lengthAdjust="spacingAndGlyphs">Patient&#8217;s perception (VAS)</text>
<text transform="translate(358.50,320.60) rotate(-90)" font-size="8.7" fill="#404040" stroke="#404040" stroke-width="0.22" text-anchor="middle" textLength="104.6" lengthAdjust="spacingAndGlyphs">Dentist&#8217;s perception (SCASS)</text>
<g clip-path="url(#cp3)">
<circle cx="400.90" cy="365.50" r="36.2" fill="url(#sph)"/>
<circle cx="400.90" cy="365.50" r="36.2" fill="url(#shd)"/>
<circle cx="400.90" cy="365.50" r="36.2" fill="url(#rim)"/>
<circle cx="400.90" cy="329.50" r="6.0" fill="url(#sphs)"/>
<circle cx="400.90" cy="329.50" r="6.0" fill="url(#shd)"/>
<circle cx="400.90" cy="329.50" r="6.0" fill="url(#rim)"/>
<circle cx="427.10" cy="365.50" r="12.0" fill="url(#sph)"/>
<circle cx="427.10" cy="365.50" r="12.0" fill="url(#shd)"/>
<circle cx="427.10" cy="365.50" r="12.0" fill="url(#rim)"/>
<circle cx="427.10" cy="329.50" r="4.3" fill="url(#sphs)"/>
<circle cx="427.10" cy="329.50" r="4.3" fill="url(#shd)"/>
<circle cx="427.10" cy="329.50" r="4.3" fill="url(#rim)"/>
<circle cx="453.30" cy="365.50" r="12.3" fill="url(#sph)"/>
<circle cx="453.30" cy="365.50" r="12.3" fill="url(#shd)"/>
<circle cx="453.30" cy="365.50" r="12.3" fill="url(#rim)"/>
<circle cx="453.30" cy="329.50" r="9.6" fill="url(#sph)"/>
<circle cx="453.30" cy="329.50" r="9.6" fill="url(#shd)"/>
<circle cx="453.30" cy="329.50" r="9.6" fill="url(#rim)"/>
<circle cx="479.50" cy="365.50" r="6.2" fill="url(#sphs)"/>
<circle cx="479.50" cy="365.50" r="6.2" fill="url(#shd)"/>
<circle cx="479.50" cy="365.50" r="6.2" fill="url(#rim)"/>
<circle cx="505.70" cy="329.50" r="7.5" fill="url(#sphs)"/>
<circle cx="505.70" cy="329.50" r="7.5" fill="url(#shd)"/>
<circle cx="505.70" cy="329.50" r="7.5" fill="url(#rim)"/>
<circle cx="531.90" cy="329.50" r="4.3" fill="url(#sphs)"/>
<circle cx="531.90" cy="329.50" r="4.3" fill="url(#shd)"/>
<circle cx="531.90" cy="329.50" r="4.3" fill="url(#rim)"/>
<circle cx="558.10" cy="365.50" r="4.3" fill="url(#sphs)"/>
<circle cx="558.10" cy="365.50" r="4.3" fill="url(#shd)"/>
<circle cx="558.10" cy="365.50" r="4.3" fill="url(#rim)"/>
<circle cx="558.10" cy="329.50" r="4.3" fill="url(#sphs)"/>
<circle cx="558.10" cy="329.50" r="4.3" fill="url(#shd)"/>
<circle cx="558.10" cy="329.50" r="4.3" fill="url(#rim)"/>
<circle cx="558.10" cy="293.50" r="7.5" fill="url(#sphs)"/>
<circle cx="558.10" cy="293.50" r="7.5" fill="url(#shd)"/>
<circle cx="558.10" cy="293.50" r="7.5" fill="url(#rim)"/>
<circle cx="584.30" cy="365.50" r="4.3" fill="url(#sphs)"/>
<circle cx="584.30" cy="365.50" r="4.3" fill="url(#shd)"/>
<circle cx="584.30" cy="365.50" r="4.3" fill="url(#rim)"/>
<circle cx="584.30" cy="329.50" r="4.3" fill="url(#sphs)"/>
<circle cx="584.30" cy="329.50" r="4.3" fill="url(#shd)"/>
<circle cx="584.30" cy="329.50" r="4.3" fill="url(#rim)"/>
<circle cx="610.50" cy="329.50" r="4.3" fill="url(#sphs)"/>
<circle cx="610.50" cy="329.50" r="4.3" fill="url(#shd)"/>
<circle cx="610.50" cy="329.50" r="4.3" fill="url(#rim)"/>
<line x1="399.40" y1="366.40" x2="662.90" y2="305.56" stroke="#333" stroke-width="1.1" stroke-dasharray="1.5 1.6" mask="url(#bm3)"/>
<g clip-path="url(#bc3)"><line x1="399.40" y1="366.40" x2="662.90" y2="305.56" stroke="#d8d8d8" stroke-width="1.2"/><line x1="399.40" y1="366.40" x2="662.90" y2="305.56" stroke="#555" stroke-width="1.0" stroke-dasharray="1.0 2.1"/></g>
</g>
<text x="400.90" y="352.70" font-size="5.5" fill="#2a2a2a" stroke="#2a2a2a" stroke-width="0.02" text-anchor="middle">71</text>
<text x="400.90" y="331.70" font-size="6.2" fill="#333" fill-opacity="0.8" text-anchor="middle" style="font-family:&quot;Liberation Serif&quot;,serif">2</text>
<text x="427.10" y="367.70" font-size="6.2" fill="#333" fill-opacity="0.8" text-anchor="middle" style="font-family:&quot;Liberation Serif&quot;,serif">8</text>
<text x="427.10" y="331.70" font-size="6.2" fill="#333" fill-opacity="0.8" text-anchor="middle" style="font-family:&quot;Liberation Serif&quot;,serif">1</text>
<text x="453.30" y="367.70" font-size="6.2" fill="#333" fill-opacity="0.8" text-anchor="middle" style="font-family:&quot;Liberation Serif&quot;,serif">8</text>
<text x="453.30" y="331.70" font-size="6.2" fill="#333" fill-opacity="0.8" text-anchor="middle" style="font-family:&quot;Liberation Serif&quot;,serif">5</text>
<text x="479.50" y="367.70" font-size="6.2" fill="#333" fill-opacity="0.8" text-anchor="middle" style="font-family:&quot;Liberation Serif&quot;,serif">2</text>
<text x="505.70" y="331.70" font-size="6.2" fill="#333" fill-opacity="0.8" text-anchor="middle" style="font-family:&quot;Liberation Serif&quot;,serif">3</text>
<text x="531.90" y="331.70" font-size="6.2" fill="#333" fill-opacity="0.8" text-anchor="middle" style="font-family:&quot;Liberation Serif&quot;,serif">1</text>
<text x="558.10" y="367.70" font-size="6.2" fill="#333" fill-opacity="0.8" text-anchor="middle" style="font-family:&quot;Liberation Serif&quot;,serif">1</text>
<text x="558.10" y="322.80" font-size="5.5" fill="#2a2a2a" stroke="#2a2a2a" stroke-width="0.15" text-anchor="middle">1</text>
<text x="558.10" y="295.70" font-size="6.2" fill="#333" fill-opacity="0.8" text-anchor="middle" style="font-family:&quot;Liberation Serif&quot;,serif">3</text>
<text x="584.30" y="367.70" font-size="6.2" fill="#333" fill-opacity="0.8" text-anchor="middle" style="font-family:&quot;Liberation Serif&quot;,serif">1</text>
<text x="584.30" y="331.70" font-size="6.2" fill="#333" fill-opacity="0.8" text-anchor="middle" style="font-family:&quot;Liberation Serif&quot;,serif">1</text>
<text x="610.50" y="331.70" font-size="6.2" fill="#333" fill-opacity="0.8" text-anchor="middle" style="font-family:&quot;Liberation Serif&quot;,serif">1</text>
<text x="619.70" y="349.70" font-size="8.7" font-weight="bold" fill="#111" textLength="35.0" lengthAdjust="spacingAndGlyphs">Rho=0.60</text></g>
</svg></body></html>
